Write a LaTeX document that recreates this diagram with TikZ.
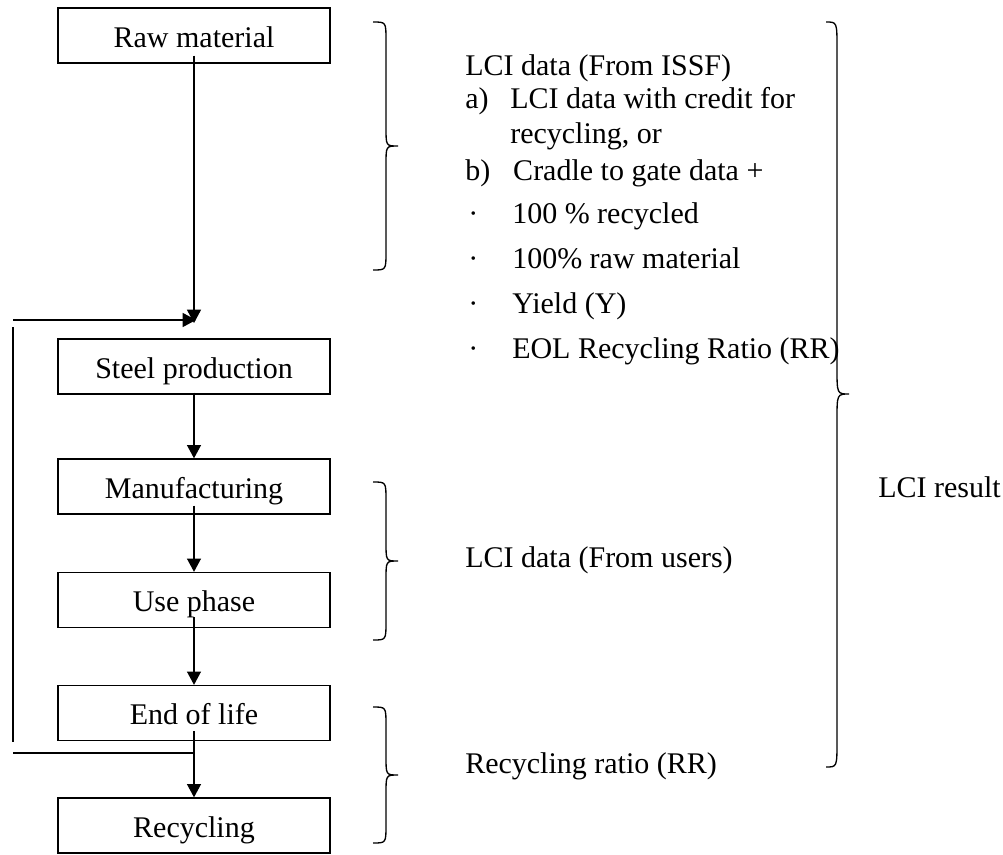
\documentclass[tikz,border=0pt]{standalone}
\usepackage{fontspec}
\setmainfont{Liberation Serif}
\usetikzlibrary{arrows.meta,calc}
\newcommand\mainsize{\fontsize{22.5pt}{27pt}\selectfont}
\newcommand\rbrc[7]{%
  \draw[bracestroke] (#1,#4) .. controls (#2,#4) .. (#2,{#4+#7}) -- (#2,{#5-#7})
    .. controls (#2,#5) .. (#3,#5) .. controls (#2,#5) .. (#2,{#5+#7})
    -- (#2,{#6-#7}) .. controls (#2,#6) .. (#1,#6);}
\tikzset{
  stage/.style={draw, line width=1pt, minimum width=204pt, minimum height=41.25pt,
    text height=17.25pt, text depth=0pt, inner sep=0pt, font=\mainsize},
  txt/.style={anchor=base west, inner sep=0pt, font=\mainsize},
  flow/.style={line width=1pt, -{Triangle[length=10pt,width=10.5pt]}},
  plain/.style={line width=1pt},
  bracestroke/.style={line width=1pt}
}
\begin{document}
\begin{tikzpicture}[x=0.75pt,y=-0.75pt]
\useasboundingbox (0,0) rectangle (1003,854);
% stages
\node[stage] (raw)   at (194,35.5)  {Raw material};
\node[stage] (steel) at (194,366.5) {Steel production};
\node[stage] (manu)  at (194,486.5) {Manufacturing};
\node[stage] (use)   at (194,600)   {Use phase};
\node[stage] (eol)   at (194,713)   {End of life};
\node[stage] (recy)  at (194,825.5) {Recycling};
% helper coordinates
\coordinate (join)  at (194,323);
\coordinate (joinH) at (196,320);
\coordinate (fbA) at (13,320);
\coordinate (fbB) at (13,327);
\coordinate (fbC) at (13,742);
\coordinate (fbD) at (13,753);
\coordinate (eolmid) at (194,753);
% connectors
\draw[flow] ($(raw.south)+(0,-8)$) -- (join);
\draw[flow] (fbA) -- (joinH);
\draw[plain] (fbB) -- (fbC);
\draw[plain] (fbD) -- (eolmid);
\draw[flow] ($(steel.south)+(0,-2)$) -- (manu.north);
\draw[flow] ($(manu.south)+(0,-9)$) -- (use.north);
\draw[flow] ($(use.south)+(0,-11)$) -- (eol.north);
\draw[flow] ($(eol.south)+(0,-10)$) -- (recy.north);
% braces
\rbrc{373}{386}{398}{22}{146}{270}{18}
\rbrc{373}{386}{398}{482}{561}{640}{18}
\rbrc{373}{386}{398}{707}{775}{843}{18}
\rbrc{826}{837}{849}{22}{394}{767}{26}
% texts
\node[txt] (i0) at (465,75)  {LCI data (From ISSF)};
\node[txt] (i1) at (465,108) {\makebox[33.75pt][l]{a)}LCI data with credit for};
\node[txt] (i2) at (510,143) {recycling, or};
\node[txt] (i3) at (465,180) {\makebox[36pt][l]{b)}Cradle to gate data +};
\node[txt] (i4) at (465,223) {\makebox[35.25pt][l]{\hspace{2.25pt}·}100 \% recycled};
\node[txt] (i5) at (465,268) {\makebox[35.25pt][l]{\hspace{2.25pt}·}100\% raw material};
\node[txt] (i6) at (465,313) {\makebox[35.25pt][l]{\hspace{2.25pt}·}Yield (Y)};
\node[txt] (i7) at (465,358) {\makebox[35.25pt][l]{\hspace{2.25pt}·}EOL Recycling Ratio (RR)};
\node[txt] (users) at (465,567) {LCI data (From users)};
\node[txt] (rr) at (465,773) {Recycling ratio (RR)};
\node[txt] (res) at (878,497) {LCI result};
\end{tikzpicture}
\end{document}
